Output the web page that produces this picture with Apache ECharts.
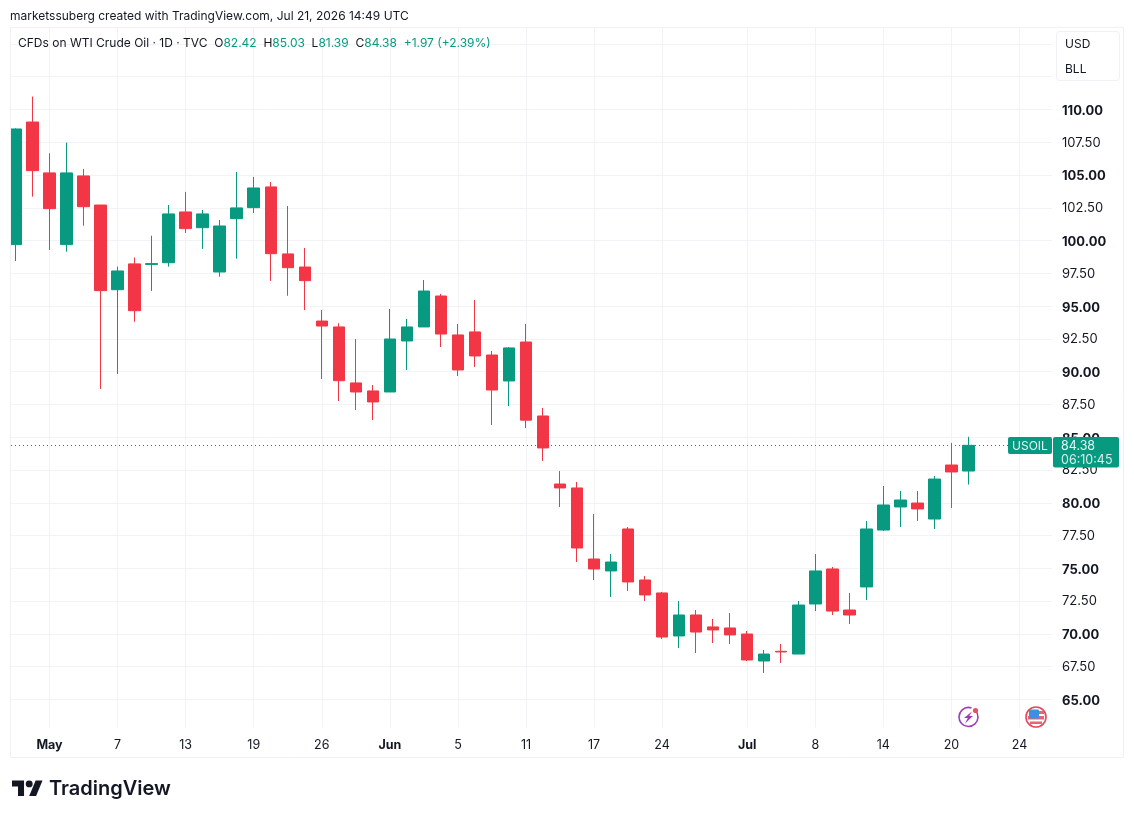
<!DOCTYPE html>
<html>
<head>
<meta charset="utf-8">
<style>html,body{margin:0;padding:0;background:#fff}#c{width:1134px;height:818px}</style>
<script src="https://cdn.jsdelivr.net/npm/echarts@6/dist/echarts.min.js"></script>
</head>
<body>
<div id="c"></div>
<script>
const categories = ['Apr 29','Apr 30','May 1','May 4','May 5','May 6','May 7','May 8','May 11','May 12','May 13','May 14','May 15','May 18','May 19','May 20','May 21','May 22','May 26','May 27','May 28','May 29','Jun 1','Jun 2','Jun 3','Jun 4','Jun 5','Jun 8','Jun 9','Jun 10','Jun 11','Jun 12','Jun 15','Jun 16','Jun 17','Jun 18','Jun 22','Jun 23','Jun 24','Jun 25','Jun 26','Jun 29','Jun 30','Jul 1','Jul 2','Jul 6','Jul 7','Jul 8','Jul 9','Jul 10','Jul 13','Jul 14','Jul 15','Jul 16','Jul 17','Jul 20','Jul 21','Jul 22','Jul 23','Jul 24','Jul 27','Jul 28'];
const opens = [99.69,109.04,105.16,99.69,104.93,102.71,96.25,98.22,98.18,98.31,102.18,100.98,97.60,101.67,102.51,104.09,98.98,97.98,93.86,93.41,89.14,88.53,88.45,92.34,93.41,95.77,92.80,93.03,91.27,89.29,92.26,86.62,81.43,81.13,75.71,74.80,78.00,74.11,73.12,69.84,71.44,70.53,70.45,69.99,67.93,68.67,68.46,72.28,74.95,71.82,73.58,77.92,79.68,79.98,78.76,82.88,82.42];
const closes = [108.51,105.33,102.43,105.16,102.58,96.18,97.68,94.65,98.24,102.03,100.91,102.03,101.11,102.49,104.01,99.00,97.93,96.94,93.48,89.31,88.45,87.69,92.49,93.41,96.15,92.87,90.13,91.20,88.60,91.81,86.30,84.18,81.13,76.55,74.95,75.48,73.96,72.97,69.76,71.44,70.14,70.30,69.92,68.01,68.46,68.62,72.20,74.80,71.74,71.44,78.00,79.83,80.21,79.53,81.81,82.35,84.38];
const lows = [98.44,103.35,99.28,99.15,101.13,88.68,89.82,93.81,96.16,98.01,100.58,99.36,97.24,98.62,102.10,96.92,95.79,94.70,89.44,87.76,87.08,86.31,88.45,90.13,93.41,91.88,89.67,90.36,85.93,87.38,85.70,83.19,79.68,75.48,74.11,72.81,73.27,72.51,69.61,68.92,68.54,69.30,69.23,67.93,67.02,67.78,68.46,71.74,71.44,70.75,72.58,77.85,78.15,78.61,78.00,79.60,81.39];
const highs = [108.56,110.98,106.66,107.47,105.46,102.71,98.01,98.70,100.37,102.71,103.71,102.33,101.57,105.23,104.85,104.47,102.64,99.43,94.70,93.69,92.49,88.98,94.78,94.02,96.99,95.93,93.64,95.47,91.58,91.88,93.64,87.23,82.42,81.59,79.14,76.09,78.15,74.42,73.20,72.51,71.82,71.14,71.59,70.22,68.77,69.23,72.51,76.09,75.10,73.12,78.61,81.28,80.90,80.90,82.04,84.56,85.03];
const timeTicks = {'May 1':'May','May 7':'7','May 13':'13','May 19':'19','May 26':'26','Jun 1':'Jun','Jun 5':'5','Jun 11':'11','Jun 17':'17','Jun 24':'24','Jul 1':'Jul','Jul 8':'8','Jul 14':'14','Jul 20':'20','Jul 24':'24'};
const monthTicks = ['May','Jun','Jul'];
const hiddenPrices = [62.5,112.5,115,116.25];
const lastPrice = 84.38;

const GREEN='#089981', RED='#F23645', INK='#131722', GRID='#f2f3f6', FONT='Inter, "Noto Sans", sans-serif';
const candles = categories.slice(0,opens.length).map((c,i)=>[opens[i],closes[i],lows[i],highs[i]]);
const yRange = {min:62.5,max:116.25,interval:2.5,type:'value',scale:false};
const isTick = (i)=>timeTicks[categories[i]]!==undefined;

const chart = echarts.init(document.getElementById('c'),null,{renderer:'canvas'});
const t=(x,y,text,style)=>({type:'text',x,y,z:6,style:Object.assign({text,font:'12px '+FONT,fill:INK,verticalAlign:'middle'},style||{})});
const lx=(x)=>12+0.86*x, ly=(y)=>777+0.86*y;
chart.setOption({
  animation:false,
  backgroundColor:'#fff',
  grid:{left:7,top:27.5,width:1055,height:704.7,containLabel:false},
  xAxis:{
    type:'category',data:categories,
    axisLine:{show:false},
    axisTick:{show:false,alignWithLabel:true},
    splitLine:{show:true,alignWithLabel:true,interval:(i)=>isTick(i),lineStyle:{color:GRID,width:1}},
    axisLabel:{
      interval:(i)=>isTick(i),margin:7,color:INK,fontFamily:FONT,fontSize:12.5,
      formatter:(v)=>{const l=timeTicks[v]||'';return monthTicks.includes(l)?'{b|'+l+'}':l;},
      rich:{b:{fontWeight:700,fontFamily:FONT,fontSize:12.5,color:INK}}
    }
  },
  yAxis:[
    Object.assign({},yRange,{position:'right',z:0,axisLine:{show:false},axisTick:{show:false},axisLabel:{show:false},
      splitLine:{show:true,lineStyle:{color:GRID,width:1}}}),
    Object.assign({},yRange,{position:'right',z:3,axisLine:{show:false},axisTick:{show:false},splitLine:{show:false},
      axisLabel:{show:true,margin:0,color:INK,fontFamily:FONT,fontSize:13,
        formatter:(v)=>{
          if(hiddenPrices.includes(v))return '';
          const s=v.toFixed(2);
          return v%5===0?'{b|'+s+'}':'{n|'+s+'}';
        },
        rich:{
          b:{fontWeight:700,fontFamily:FONT,fontSize:13,color:INK,padding:[3,0,0,0]},
          n:{fontFamily:FONT,fontSize:13,color:INK,padding:[1,0,0,0]}
        }
      }})
  ],
  series:[{
    type:'candlestick',data:candles,xAxisIndex:0,yAxisIndex:0,barWidth:12,
    itemStyle:{color:GREEN,color0:RED,borderColor:GREEN,borderColor0:RED,borderWidth:1},
    markLine:{silent:true,symbol:'none',animation:false,z:3,label:{show:false},
      lineStyle:{color:'#5d636f',type:[1,3],width:1},
      data:[{yAxis:lastPrice}]}
  }],
  graphic:{elements:[
    {type:'rect',z:1,shape:{x:1052,y:27,width:72,height:707},style:{fill:'#fff'}},
    {type:'rect',z:1,shape:{x:8,y:727.5,width:1050,height:6},style:{fill:'#fff'}},
    {type:'rect',z:4,shape:{x:0,y:20,width:10,height:720},style:{fill:'#fff'}},
    {type:'rect',z:4,shape:{x:10.5,y:27.5,width:1113,height:730},style:{fill:'none',stroke:'#eff1f5',lineWidth:1}},
    {type:'rect',z:5,shape:{x:1056.5,y:31.5,width:63,height:49,r:3},style:{fill:'#fff',stroke:'#eff1f5',lineWidth:1}},
    t(1065,44,'USD'),
    t(1065,69,'BLL'),
    t(10,16,'marketssuberg created with TradingView.com, Jul 21, 2026 14:49 UTC'),
    {type:'text',x:18,y:43,z:6,style:{
      text:'{k|CFDs on WTI Crude Oil · 1D · TVC  O}{v|82.42}{k|  H}{v|85.03}{k|  L}{v|81.39}{k|  C}{v|84.38}{v|  +1.97 (+2.39%)}',
      verticalAlign:'middle',
      rich:{k:{font:'12px '+FONT,fill:INK},v:{font:'12px '+FONT,fill:GREEN}}
    }},
    {type:'rect',z:5,shape:{x:1008,y:437,width:44,height:17,r:2},style:{fill:GREEN}},
    {type:'rect',z:5,shape:{x:1053,y:437,width:66,height:30.5,r:2},style:{fill:GREEN}},
    t(1012,446,'USOIL',{fill:'#e6f7f3'}),
    t(1061,446,'84.38',{font:'12.5px '+FONT,fill:'#e6f7f3'}),
    t(1061,460,'06:10:45',{font:'12.5px '+FONT,fill:'#d5f0ea'}),
    {type:'arc',z:5,shape:{cx:968.5,cy:717,r:9.5,startAngle:-0.75,endAngle:-1.25+Math.PI*2,clockwise:true},style:{stroke:'#9c3fb5',fill:'none',lineWidth:1.6}},
    {type:'polygon',z:5,shape:{points:[[972,711.5],[964,718],[967.8,718],[965,723.5],[973,716],[969.3,716]]},style:{fill:'#9c3fb5'}},
    {type:'circle',z:6,shape:{cx:975.5,cy:710.5,r:2.6},style:{fill:'#e2535f'}},
    {type:'circle',z:5,shape:{cx:1036,cy:717,r:10},style:{fill:'#fff',stroke:'#e8475a',lineWidth:1.6}},
    {type:'rect',z:5,shape:{x:1029,y:711,width:15,height:3},style:{fill:'#e8656f'}},
    {type:'rect',z:5,shape:{x:1028,y:716,width:16,height:3.5},style:{fill:'#e8656f'}},
    {type:'rect',z:5,shape:{x:1030,y:721.5,width:12,height:2.5},style:{fill:'#e8656f'}},
    {type:'rect',z:6,shape:{x:1029,y:709.5,width:10,height:9,r:1},style:{fill:'#3d8fe0'}},
    {type:'polygon',z:6,shape:{points:[[0,4],[14,4],[14,22],[7,22],[7,11],[0,11]].map(p=>[lx(p[0]),ly(p[1])])},style:{fill:INK}},
    {type:'polygon',z:6,shape:{points:[[27.5,4],[35.5,4],[28,22],[20,22]].map(p=>[lx(p[0]),ly(p[1])])},style:{fill:INK}},
    {type:'circle',z:6,shape:{cx:lx(20),cy:ly(8),r:3.44},style:{fill:INK}},
    t(49,788.5,'TradingView',{font:'600 20px '+FONT})
  ]}
});
</script>
</body>
</html>
